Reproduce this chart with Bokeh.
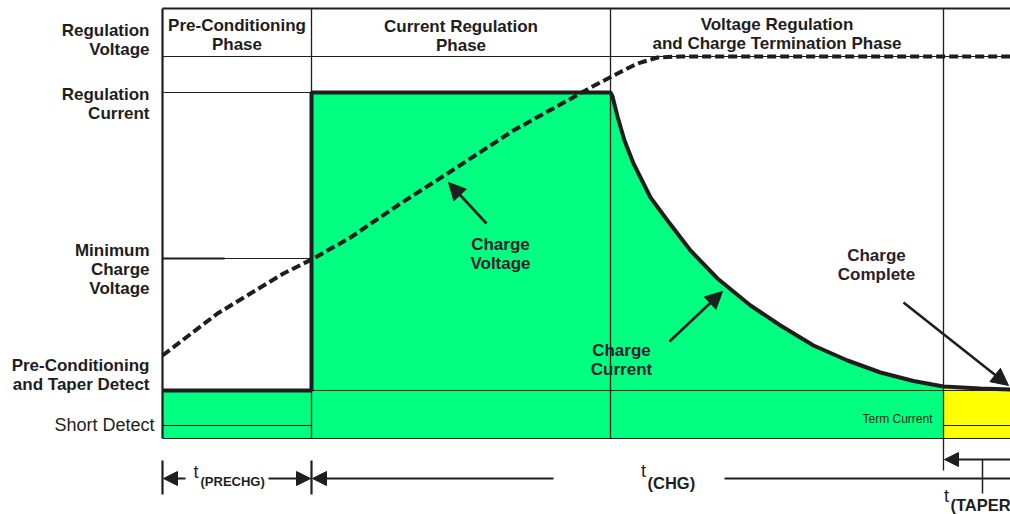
from bokeh.plotting import figure
from bokeh.models import Range1d, Arrow, NormalHead
from bokeh.core.properties import value
from bokeh.embed import file_html
from bokeh.resources import INLINE

# ---------------- data (time units along x, level units along y) ----------------
phase_names = ["Pre-Conditioning\nPhase", "Current Regulation\nPhase",
               "Voltage Regulation\nand Charge Termination Phase"]
phase_bounds = [0, 149, 448, 781, 848]
level_names = ["Regulation\nVoltage", "Regulation\nCurrent", "Minimum\nCharge\nVoltage",
               "Pre-Conditioning\nand Taper Detect", "Short Detect"]
level_values = [382, 346, 180, 48, 13]
chart_top = 430

current_t = [0, 149, 149, 448, 450, 455, 462, 471, 488, 505, 528, 555, 588, 618, 651, 685, 718, 751, 781, 818, 848]
current_level = [48, 48, 346, 346, 342, 322, 298, 275, 241, 218, 188, 160, 133, 113, 93, 78, 66, 57.5, 52, 50, 49]

voltage_t = [0, 55, 88, 121, 151, 188, 238, 285, 351, 405, 430, 455, 475, 495, 518, 848]
voltage_level = [83, 125, 145, 165, 180, 201, 235, 265, 308, 338, 352, 365, 375, 381, 382, 382]

annotation_texts = ["Charge\nVoltage", "Charge\nCurrent", "Charge\nComplete"]
timing_names = ["(PRECHG)", "(CHG)", "(TAPER"]

# ---------------- layout / style ----------------
FONT = value("Liberation Sans")
INK = "#1e1e1e"
GREEN = "#00FF80"
YELLOW = "#FFFF00"
LH = 1.0

p = figure(width=1010, height=514, output_backend="svg", toolbar_location=None,
           x_range=Range1d(-162, 848), y_range=Range1d(-76, 438),
           x_axis_type=None, y_axis_type=None, min_border=0,
           outline_line_color=None, background_fill_color="white")
p.grid.visible = False

b0, b1, b2, b3, bend = phase_bounds
reg_v, reg_i, min_v, pre_lvl, short_lvl = level_values

# filled current regions
k = current_t.index(b3)
green_x = [b0] + current_t[:k + 1] + [b3]
green_y = [0] + current_level[:k + 1] + [0]
p.patch(green_x, green_y, fill_color=GREEN, line_color=None)
yellow_x = [b3] + current_t[k:] + [bend]
yellow_y = [0] + current_level[k:] + [0]
p.patch(yellow_x, yellow_y, fill_color=YELLOW, line_color=None)

# thin grid lines
hx0 = [b0, b0, b0, b0, b0, b3, b0]
hx1 = [bend, b1, b1, bend, b1, bend, bend]
hy = [reg_v, reg_i, min_v, pre_lvl, short_lvl, short_lvl, 0]
p.segment(x0=hx0, y0=hy, x1=hx1, y1=hy, line_color=INK, line_width=1.2)
p.segment(x0=[b0], y0=[min_v], x1=[62], y1=[min_v], line_color=INK, line_width=2.2)
p.segment(x0=[b1, b2, b3], y0=[0, 0, -32], x1=[b1, b2, b3], y1=[chart_top] * 3,
          line_color=INK, line_width=1.3)
# frame
p.segment(x0=[b0, b0], y0=[chart_top, 0], x1=[bend, b0], y1=[chart_top, chart_top],
          line_color=INK, line_width=2.2)

# charge current and voltage
p.line(current_t, current_level, line_color=INK, line_width=4)
p.line(voltage_t, voltage_level, line_color=INK, line_width=4, line_dash="9 4")

# header texts
mids = [(phase_bounds[i] + phase_bounds[i + 1]) / 2 for i in range(3)]
p.text(x=mids, y=[403.5, 403, 404.5], text=phase_names, text_font=FONT, text_font_size="17px",
       text_font_style="bold", text_align="center", text_baseline="middle",
       text_line_height=LH, text_color=INK)

# level labels
label_y = [398.5, 335, 169, 63.5]
p.text(x=[-13] * 4, y=label_y, text=level_names[:4], text_font=FONT, text_font_size="17px",
       text_font_style="bold", text_align="right", text_baseline="middle",
       text_line_height=LH, text_color=INK)
p.text(x=[-8], y=[13.5], text=level_names[4:], text_font=FONT, text_font_size="18px",
       text_align="right", text_baseline="middle", text_color=INK)

# term current
p.text(x=[735], y=[20], text=["Term Current"], text_font=FONT, text_font_size="12px",
       text_align="center", text_baseline="middle", text_color=INK)

# annotations
p.text(x=[338, 459, 714], y=[185, 79, 174], text=annotation_texts, text_font=FONT,
       text_font_size="17px", text_font_style="bold", text_align="center",
       text_baseline="middle", text_line_height=LH, text_color="#2a2030")

def arrow(xs, ys, xe, ye, size, lw):
    p.add_layout(Arrow(end=NormalHead(size=size, fill_color=INK, line_color=INK, line_width=1),
                       x_start=xs, y_start=ys, x_end=xe, y_end=ye,
                       line_color=INK, line_width=lw))

arrow(324, 215, 286, 256, 17, 2.6)
arrow(507, 97, 560, 147, 17, 2.6)
arrow(741, 136, 846, 53, 17, 2.6)

# timing section
ty = -40
p.segment(x0=[b0, b1], y0=[-22, -22], x1=[b0, b1], y1=[-56, -56], line_color=INK, line_width=2.2)
arrow(23, ty, 1, ty, 14, 2.2)
arrow(106, ty, 148, ty, 14, 2.2)
arrow(391, ty, 150, ty, 14, 2.2)
p.segment(x0=[562], y0=[ty], x1=[bend], y1=[ty], line_color=INK, line_width=2.2)
arrow(bend, -21, b3 + 1, -21, 14, 2.2)
p.segment(x0=[820], y0=[-21], x1=[820], y1=[-55], line_color=INK, line_width=1.5)

p.text(x=[33.5, 481, 784], y=[-33, -32, -57], text=["t", "t", "t"], text_font=FONT,
       text_font_size="18px", text_align="center", text_baseline="middle", text_color=INK)
p.text(x=[38], y=[-43], text=timing_names[:1], text_font=FONT, text_font_size="13px",
       text_font_style="bold", text_align="left", text_baseline="middle", text_color=INK)
p.text(x=[485, 788], y=[-44, -66], text=timing_names[1:], text_font=FONT, text_font_size="16.5px",
       text_font_style="bold", text_align="left", text_baseline="middle", text_color=INK)

open("out.html", "w").write(file_html(p, INLINE))
